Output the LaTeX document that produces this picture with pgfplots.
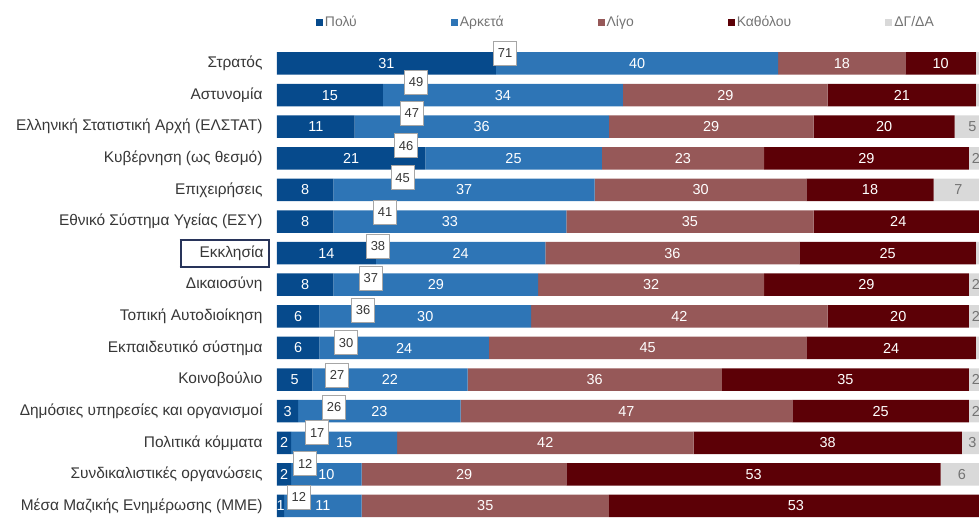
\documentclass[border=0pt]{standalone}
\usepackage{pgfplots}
\pgfplotsset{compat=1.18}
\usepackage{fontspec}
\setmainfont{Liberation Sans}
\definecolor{cPolu}{RGB}{6,74,140}
\definecolor{cArketa}{RGB}{46,117,182}
\definecolor{cLigo}{RGB}{150,88,88}
\definecolor{cKatholou}{RGB}{92,0,6}
\definecolor{cDG}{RGB}{217,217,217}
\definecolor{txt}{RGB}{55,55,55}
\definecolor{legtxt}{RGB}{115,115,115}
\definecolor{boxnavy}{RGB}{40,52,90}
\pgfplotsset{
  seglabel/.style={
    nodes near coords,
    point meta=explicit symbolic,
    every node near coord/.append style={anchor=center,
      font=\fontsize{14.5}{15}\selectfont, text=#1, inner sep=0pt},
  },
}
\begin{document}
\begin{tikzpicture}
\begin{axis}[
  at={(0,0)}, anchor=south west,
  scale only axis, width=720.1bp, height=471bp,
  xbar stacked, bar width=22.5bp,
  xmin=0, xmax=102, ymin=-0.522, ymax=14.38, y dir=reverse,
  axis line style={draw=none}, tick style={draw=none},
  xtick=\empty,
  ytick={0,...,14},
  yticklabels={Στρατός, Αστυνομία, Ελληνική Στατιστική Αρχή (ΕΛΣΤΑΤ), Κυβέρνηση (ως θεσμό), Επιχειρήσεις, Εθνικό Σύστημα Υγείας (ΕΣΥ), {\fboxrule=2bp\fboxsep=5bp\textcolor{boxnavy}{\fbox{\hspace{13bp}\textcolor{txt}{Εκκλησία}}}\kern-8bp}, Δικαιοσύνη, Τοπική Αυτοδιοίκηση, Εκπαιδευτικό σύστημα, Κοινοβούλιο, Δημόσιες υπηρεσίες και οργανισμοί, Πολιτικά κόμματα, Συνδικαλιστικές οργανώσεις, Μέσα Μαζικής Ενημέρωσης (ΜΜΕ)},
  yticklabel style={font=\fontsize{15.5}{16}\selectfont, text=txt, xshift=-11bp},
  legend columns=5,
  legend style={at={(0.05416,1.053)}, anchor=west, draw=none, fill=none,
    inner sep=0pt, outer sep=0pt,
    font=\fontsize{14}{15}\selectfont, text=legtxt,
    nodes={inner sep=2bp},
    /tikz/every even column/.append style={column sep=92bp}},
  legend image code/.code={\fill[#1] (0bp,-3.5bp) rectangle (7bp,3.5bp);},
]
\addplot[fill=cPolu, draw=none, seglabel=white] coordinates {
 (31,0)[31] (15,1)[15] (11,2)[11] (21,3)[21] (8,4)[8] (8,5)[8] (14,6)[14] (8,7)[8]
 (6,8)[6] (6,9)[6] (5,10)[5] (3,11)[3] (2,12)[2] (2,13)[2] (1,14)[1]};
\addlegendentry{Πολύ}
\addplot[fill=cArketa, draw=none, seglabel=white] coordinates {
 (40,0)[40] (34,1)[34] (36,2)[36] (25,3)[25] (37,4)[37] (33,5)[33] (24,6)[24] (29,7)[29]
 (30,8)[30] (24,9)[24] (22,10)[22] (23,11)[23] (15,12)[15] (10,13)[10] (11,14)[11]};
\addlegendentry{Αρκετά}
\addplot[fill=cLigo, draw=none, seglabel=white] coordinates {
 (18,0)[18] (29,1)[29] (29,2)[29] (23,3)[23] (30,4)[30] (35,5)[35] (36,6)[36] (32,7)[32]
 (42,8)[42] (45,9)[45] (36,10)[36] (47,11)[47] (42,12)[42] (29,13)[29] (35,14)[35]};
\addlegendentry{Λίγο}
\addplot[fill=cKatholou, draw=none, seglabel=white] coordinates {
 (10,0)[10] (21,1)[21] (20,2)[20] (29,3)[29] (18,4)[18] (24,5)[24] (25,6)[25] (29,7)[29]
 (20,8)[20] (24,9)[24] (35,10)[35] (25,11)[25] (38,12)[38] (53,13)[53] (53,14)[53]};
\addlegendentry{Καθόλου}
\addplot[fill=cDG, draw=none, seglabel=legtxt] coordinates {
 (1,0)[] (1,1)[] (5,2)[5] (2,3)[2] (7,4)[7] (0,5)[] (1,6)[] (2,7)[2]
 (2,8)[2] (1,9)[] (2,10)[2] (2,11)[2] (3,12)[3] (6,13)[6] (0,14)[]};
\addlegendentry{ΔΓ/ΔΑ}
\end{axis}
\begin{axis}[
  at={(0,0)}, anchor=south west,
  scale only axis, width=720.1bp, height=471bp,
  xmin=0, xmax=102, ymin=-0.522, ymax=14.38, y dir=reverse,
  hide axis,
]
\addplot[draw=none, mark=none, nodes near coords, point meta=explicit symbolic,
  every node near coord/.append style={anchor=center, draw=black!35, line width=1bp, fill=white,
    minimum width=23bp, minimum height=24bp, inner sep=0pt,
    font=\fontsize{13}{14}\selectfont, text=txt}] coordinates {
 (32.3,-0.33)[71] (19.7,0.59)[49] (19.1,1.57)[47] (18.3,2.61)[46] (17.8,3.62)[45]
 (15.3,4.70)[41] (14.3,5.78)[38] (13.3,6.79)[37] (12.2,7.80)[36] (9.8,8.84)[30]
 (8.5,9.86)[27] (8.1,10.87)[26] (5.7,11.69)[17] (4.0,12.67)[12] (3.1,13.72)[12]};
\end{axis}
\pgfresetboundingbox
\useasboundingbox (-277bp,0) rectangle (702bp,518bp);
\end{tikzpicture}
\end{document}
